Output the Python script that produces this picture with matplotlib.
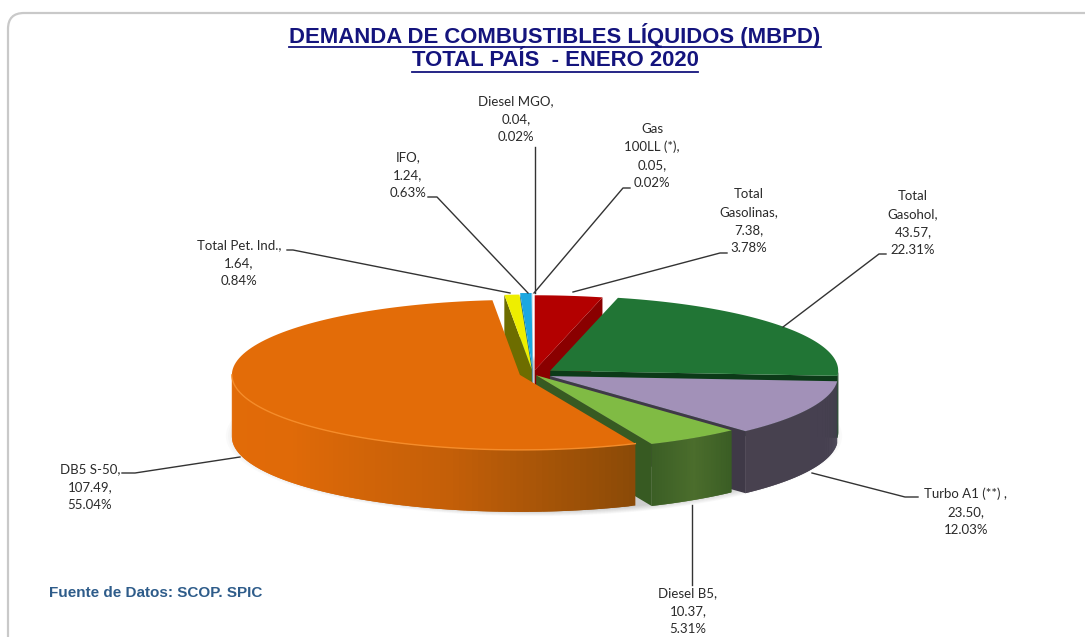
#!/usr/bin/env python3
"""Fuel demand by product, drawn as an extruded (3D look) pie."""
from __future__ import annotations

import matplotlib

matplotlib.use("Agg")
import matplotlib.pyplot as plt  # noqa: E402
import numpy as np  # noqa: E402
from matplotlib.colors import to_rgb  # noqa: E402
from matplotlib.patches import Ellipse, FancyBboxPatch, Polygon  # noqa: E402

# data, clockwise from 12 o'clock
products = ["Total Gasolinas", "Total Gasohol", "Turbo A1 (**)", "Diesel B5", "DB5 S-50",
            "Total Pet. Ind.", "IFO", "Diesel MGO", "Gas 100LL (*)"]
values = [7.38, 43.57, 23.50, 10.37, 107.49, 1.64, 1.24, 0.04, 0.05]
percents = ["3.78%", "22.31%", "12.03%", "5.31%", "55.04%", "0.84%", "0.63%", "0.02%", "0.02%"]
value_labels = ["7.38", "43.57", "23.50", "10.37", "107.49", "1.64", "1.24", "0.04", "0.05"]
title_lines = ["DEMANDA DE COMBUSTIBLES LÍQUIDOS (MBPD)", "TOTAL PAÍS  - ENERO 2020"]
source_note = "Fuente de Datos: SCOP. SPIC"

# styling per product
top_colors = ["#b30000", "#217535", "#a291b8", "#80bb44", "#e36c08", "#eeee00", "#1ba7e0", "#bcd4e6", "#d8dfe6"]
wall_colors = ["#8a0000", "#0c3a18", "#3f3947", "#375a22", "#a85205", "#6d6d00", "#12709a", "#9fb4c4", "#b5bcc4"]
side_stops = [["#8a0000"], ["#123d1c"], ["#48414f", "#454050"], ["#3b5e25", "#4b6d2c", "#3a5d24"],
              ["#e26b08", "#e06a08", "#c45f08", "#8a4a07"], ["#6d6d00"], ["#12709a"], ["#9fb4c4"], ["#b5bcc4"]]
explode = [0.05, 0.074, 0.065, 0.02, 0.047, 0.06, 0.08, 0.08, 0.08]
# slices drawn back to front
draw_order = [7, 8, 6, 5, 0, 1, 2, 3, 4]

CX, CY = 533, 374
RX, RY = 288, 75
DEPTH = 62

# label text block: centre x, first line y, line texts
label_layout = {
    "Total Gasolinas": (749, 194, ["Total", "Gasolinas,"]),
    "Total Gasohol": (913, 196, ["Total", "Gasohol,"]),
    "Turbo A1 (**)": (966, 494, ["Turbo A1 (**) ,"]),
    "Diesel B5": (688, 593, ["Diesel B5,"]),
    "DB5 S-50": (90, 469, ["DB5 S-50,"]),
    "Total Pet. Ind.": (239, 245, ["Total Pet. Ind.,"]),
    "IFO": (408, 157, ["IFO,"]),
    "Diesel MGO": (516, 101, ["Diesel MGO,"]),
    "Gas 100LL (*)": (652, 129, ["Gas", "100LL (*),"]),
}
leaders = {
    "Total Gasolinas": ([727, 720, 573], [253, 253, 292]),
    "Total Gasohol": ([886, 879, 783], [254, 254, 327]),
    "Turbo A1 (**)": ([918, 905, 812], [497, 497, 473]),
    "Diesel B5": ([692, 692], [585, 505]),
    "DB5 S-50": ([122, 135, 240], [473, 473, 457]),
    "Total Pet. Ind.": ([287, 293, 510], [250, 250, 293]),
    "IFO": ([428, 437, 528], [197, 197, 293]),
    "Diesel MGO": ([535, 535], [147, 293]),
    "Gas 100LL (*)": ([630, 623, 534], [188, 188, 293]),
}


def slice_angles() -> tuple[np.ndarray, np.ndarray]:
    edges = np.cumsum([0.0] + values) / sum(values) * 2 * np.pi
    return edges[:-1], edges[1:]


def rim(apex: tuple[float, float], a: np.ndarray) -> np.ndarray:
    return np.column_stack([apex[0] + RX * np.sin(a), apex[1] - RY * np.cos(a)])


def blend(stops: list[str], t: float) -> tuple[float, float, float]:
    if len(stops) == 1:
        return to_rgb(stops[0])
    pos = t * (len(stops) - 1)
    i = min(int(pos), len(stops) - 2)
    c0, c1 = np.array(to_rgb(stops[i])), np.array(to_rgb(stops[i + 1]))
    return tuple(c0 + (c1 - c0) * (pos - i))


def draw_wall(ax, i: int, apex, a: float) -> None:
    p = rim(apex, np.array([a]))[0]
    ax.add_patch(Polygon([apex, p, (p[0], p[1] + DEPTH), (apex[0], apex[1] + DEPTH)],
                         closed=True, fc=wall_colors[i], ec="none", zorder=3))


def draw_slice(ax, i: int, start: float, stop: float) -> None:
    mid = (start + stop) / 2
    apex = (CX + explode[i] * RX * np.sin(mid), CY - explode[i] * RY * np.cos(mid))

    # radial walls that face the viewer
    if np.sin(stop) > 0:
        draw_wall(ax, i, apex, stop)
    if np.sin(start) < 0:
        draw_wall(ax, i, apex, start)

    # outer side, only the front half of the circle shows
    lo, hi = max(start, np.pi / 2), min(stop, 3 * np.pi / 2)
    if hi > lo:
        steps = np.linspace(lo, hi, 90)
        pts = rim(apex, steps)
        n = len(steps) - 1
        for k in range(n):
            # each strip overlaps the next one so no seams show
            end = min(k + 2, n)
            quad = [pts[k], pts[end], pts[end] + (0, DEPTH), pts[k] + (0, DEPTH)]
            ax.add_patch(Polygon(quad, closed=True, fc=blend(side_stops[i], 1 - (k + 0.5) / n),
                                 ec="none", zorder=3))

    # top face
    arc = rim(apex, np.linspace(start, stop, 120))
    ax.add_patch(Polygon(np.vstack([apex, arc]), closed=True, fc=top_colors[i], ec="none", zorder=3))
    if hi > lo and i == 4:
        edge = rim(apex, np.linspace(lo, hi, 120))
        ax.plot(edge[:, 0], edge[:, 1], color="#f58c2a", lw=1.0, zorder=3)


def draw_shadow(ax) -> None:
    for grow in np.linspace(1.07, 1.0, 10):
        ax.add_patch(Ellipse((CX + 1, CY + DEPTH), 2 * RX * grow, 2 * RY * grow,
                             fc="#000000", alpha=0.02, ec="none", zorder=2))


def draw_labels(ax) -> None:
    for name, val, pct in zip(products, value_labels, percents):
        x, y, head = label_layout[name]
        for k, line in enumerate(head + [val + ",", pct]):
            ax.text(x, y + k * 18, line, ha="center", va="center", fontsize=9.5,
                    family="Lato", color="#2a2a2a", zorder=6)
        xs, ys = leaders[name]
        ax.plot(xs, ys, color="#333333", lw=1.0, zorder=5)


def draw_title(fig, ax) -> None:
    renderer = fig.canvas.get_renderer()
    for line, y in zip(title_lines, [36, 61]):
        t = ax.text(555, y, line, ha="center", va="center", fontsize=15.9, fontweight="bold",
                    family="Liberation Sans", color="#14147d", zorder=6)
        box = t.get_window_extent(renderer)
        ax.plot([box.x0, box.x1], [y + 11, y + 11], color="#14147d", lw=1.3, zorder=6)


def main():
    fig = plt.figure(figsize=(10.85, 6.37), dpi=100)
    ax = fig.add_axes([0, 0, 1, 1])
    ax.set_xlim(0, 1085)
    ax.set_ylim(637, 0)
    ax.axis("off")

    # frame runs off the right and bottom of the picture
    ax.add_patch(FancyBboxPatch((12, 17), 1120, 680, boxstyle="round,pad=4,rounding_size=16",
                                fc="white", ec="#c9c9c9", lw=1.6, zorder=1))

    draw_shadow(ax)
    starts, stops = slice_angles()
    for i in draw_order:
        draw_slice(ax, i, starts[i], stops[i])
    draw_labels(ax)
    draw_title(fig, ax)
    ax.text(49, 593, source_note, ha="left", va="center", fontsize=11, fontweight="bold",
            family="Liberation Sans", color="#2e5c8a", zorder=6)

    fig.savefig("out.png", dpi=100)
    plt.close(fig)


if __name__ == "__main__":
    main()
